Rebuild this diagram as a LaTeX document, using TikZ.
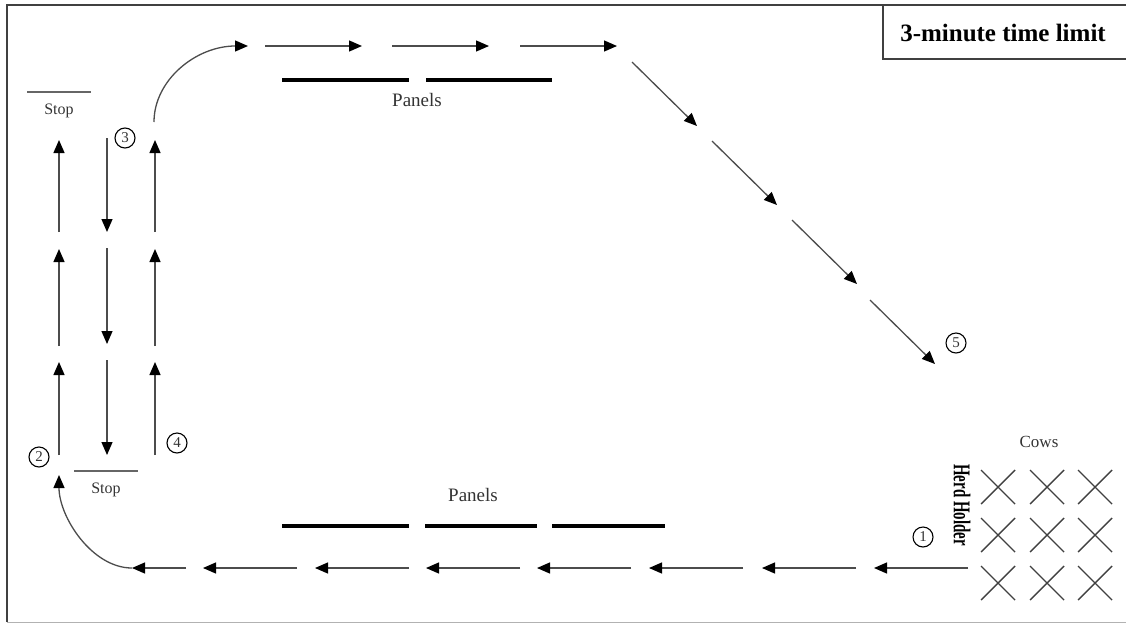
\documentclass[tikz,border=0pt]{standalone}
\usepackage{fontspec}
\setmainfont{Liberation Serif}
\usetikzlibrary{arrows.meta}

\begin{document}
\begin{tikzpicture}[x=1pt,y=-1pt]
    \tikzstyle{every node}=[font=\fontsize{16}{18}\selectfont,text=black!80]
    \tikzstyle{flow}=[line width=1.3pt,black!70,-{Triangle[length=13pt,width=11pt,color=black]}]
    \tikzstyle{panel}=[line width=4.5pt,black]
    \tikzstyle{stopline}=[line width=1.2pt,black!60]
    \tikzstyle{num}=[circle,draw,line width=1.1pt,inner sep=0pt,minimum size=20pt,font=\fontsize{15}{15}\selectfont]
    \tikzstyle{cow}=[line width=1.4pt,black!75]
    \def\ry{568}
    \useasboundingbox (0,0) rectangle (1126,624);
    % frame and title
    \draw[line width=1.8pt,black!75] (1140,5) -- (7,5) -- (7,622);
    \draw[line width=1pt,black!30] (7,622) -- (1140,622);
    \draw[line width=1.6pt,black!75] (883,5) rectangle (1140,59);
    \node[text=black] (title) at (1003,33) {\fontsize{25}{27}\selectfont\bfseries 3-minute time limit};
    % top run
    \draw[flow] (154,122) .. controls (154,80) and (196,46) .. (248,46);
    \foreach \x in {265,392,520}
      \draw[flow] (\x,46) -- +(97,0);
    \draw[panel] (282,80) -- (409,80);
    \draw[panel] (426,80) -- (552,80);
    \node (panelstop) at (417,100) {\fontsize{19}{21}\selectfont Panels};
    % diagonal run
    \foreach \x/\y in {632/62,712/141,792/220,870/300}
      \draw[flow] (\x,\y) -- +(65,64);
    \node[num] (n5) at (956,343) {5};
    % weaving columns
    \foreach \t/\h in {232/140,346/249,455/362} {
      \draw[flow] (59,\t) -- (59,\h);
      \draw[flow] (155,\t) -- (155,\h);
    }
    \foreach \t/\h in {138/232,248/344,360/455}
      \draw[flow] (107,\t) -- (107,\h);
    \draw[stopline] (27,92) -- (91,92);
    \node (stoptop) at (59,111) {Stop};
    \draw[stopline] (74,471) -- (138,471);
    \node (stopbot) at (106,490) {Stop};
    \node[num] (n3) at (125,138) {3};
    \node[num] (n4) at (177,443) {4};
    \node[num] (n2) at (39,457) {2};
    % bottom run
    \draw[flow] (132,\ry) .. controls (92,\ry) and (59,517) .. (59,475);
    \draw[flow] (186,\ry) -- (132,\ry);
    \foreach \x in {203,315,426,537,649,762,874}
      \draw[flow] (\x+94,\ry) -- (\x,\ry);
    \draw[panel] (282,526) -- (409,526);
    \draw[panel] (425,526) -- (537,526);
    \draw[panel] (552,526) -- (665,526);
    \node (panelsbot) at (473,495) {\fontsize{19}{21}\selectfont Panels};
    % herd
    \foreach \cx in {998,1047,1095}
      \foreach \cy in {487,535,583}
        \draw[cow] (\cx-17,\cy-17) -- (\cx+17,\cy+17) (\cx-17,\cy+17) -- (\cx+17,\cy-17);
    \node (cows) at (1039,442) {\fontsize{17}{19}\selectfont Cows};
    \node[rotate=-90,text=black] (holder) at (962,505) {\scalebox{0.62}[1]{\fontsize{24}{26}\selectfont\bfseries Herd Holder}};
    \node[num] (n1) at (923,537) {1};
  \end{tikzpicture}
\end{document}
